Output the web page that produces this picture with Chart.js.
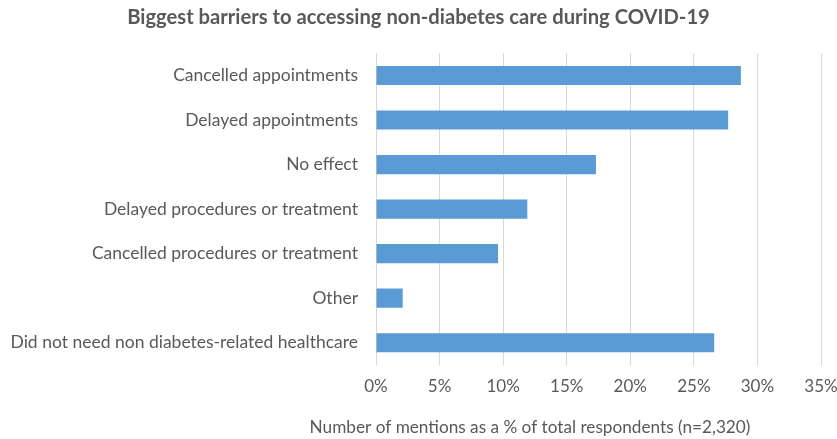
<!DOCTYPE html>
<html>
<head>
<meta charset="utf-8">
<script src="https://cdn.jsdelivr.net/npm/chart.js@4.4.1/dist/chart.umd.min.js"></script>
<style>
  html, body { margin: 0; padding: 0; background: #fff; }
  #wrap { width: 837px; height: 439px; }
</style>
</head>
<body>
<div id="wrap"><canvas id="barriers-chart"></canvas></div>
<script>
// Categories, top to bottom
var categories = [
    'Cancelled appointments',
    'Delayed appointments',
    'No effect',
    'Delayed procedures or treatment',
    'Cancelled procedures or treatment',
    'Other',
    'Did not need non diabetes-related healthcare'
];

// % of total respondents
var mentions = [28.7, 27.7, 17.3, 11.9, 9.6, 2.1, 26.6];

var xTicks = [0, 5, 10, 15, 20, 25, 30, 35];

var chartTitle = 'Biggest barriers to accessing non-diabetes care during COVID-19';
var xTitle = 'Number of mentions as a % of total respondents (n=2,320)';

(function() {
    'use strict';

    var textColor = '#595959';
    var fontFamily = 'Lato, "Open Sans", sans-serif';

    // x axis caption sits left of the plot centre in the original, so draw it ourselves
    var xCaption = {
        id: 'xCaption',
        afterDraw: function(chart) {
            var c = chart.ctx;
            c.save();
            c.fillStyle = textColor;
            c.font = '17.2px ' + fontFamily;
            c.textAlign = 'center';
            c.textBaseline = 'middle';
            c.fillText(xTitle, 530, 427);
            c.restore();
        }
    };

    var ctx = document.getElementById('barriers-chart').getContext('2d');

    new Chart(ctx, {
        type: 'bar',
        data: {
            labels: categories,
            datasets: [{
                label: 'Mentions',
                data: mentions,
                backgroundColor: '#5b9bd5',
                borderWidth: 0,
                barPercentage: 0.43,
                categoryPercentage: 1
            }]
        },
        options: {
            indexAxis: 'y',
            responsive: true,
            maintainAspectRatio: false,
            animation: false,
            layout: {
                padding: { left: 0, right: 0, top: 0, bottom: 0 }
            },
            plugins: {
                legend: { display: false },
                tooltip: { enabled: false },
                title: {
                    display: true,
                    text: chartTitle,
                    color: textColor,
                    font: { family: fontFamily, size: 20.2, weight: 'bold' },
                    padding: { top: 5, bottom: 24 }
                }
            },
            scales: {
                x: {
                    min: 0,
                    max: 35,
                    afterBuildTicks: function(scale) {
                        scale.ticks = xTicks.map(function(v) { return { value: v }; });
                    },
                    afterFit: function(scale) {
                        scale.height = 74;
                        // plot ends at x=821, leaving room for half of "35%"
                        scale.paddingRight = 16;
                    },
                    ticks: {
                        color: textColor,
                        font: { family: fontFamily, size: 17 },
                        padding: 11,
                        callback: function(value) { return value + '%'; }
                    },
                    grid: {
                        color: '#d9d9d9',
                        drawTicks: false
                    },
                    border: { display: false }
                },
                y: {
                    afterFit: function(scale) {
                        scale.width = 376;
                    },
                    ticks: {
                        color: textColor,
                        font: { family: fontFamily, size: 17.5 },
                        padding: 10
                    },
                    grid: { display: false },
                    border: { display: false }
                }
            }
        },
        plugins: [xCaption]
    });
})();
</script>
</body>
</html>
